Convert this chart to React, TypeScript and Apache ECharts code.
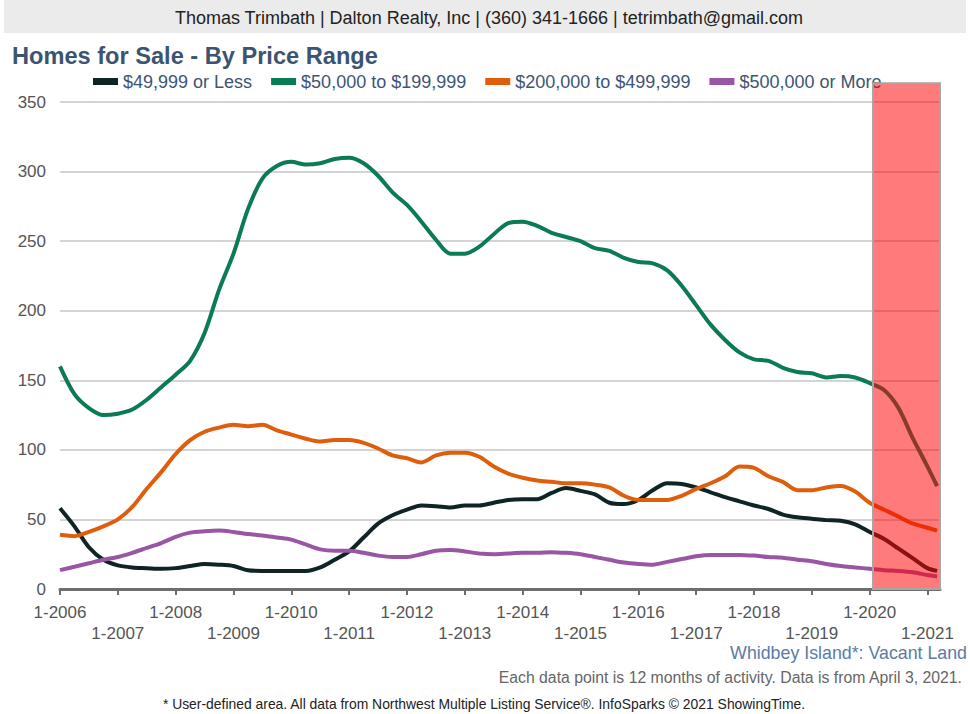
import React, { useEffect, useRef } from "react";
import * as echarts from "echarts";

// Months since January 2006 (sampled quarterly, last point = latest month)
const months = [
  0, 3, 6, 9, 12, 15, 18, 21, 24, 27, 30, 33, 36, 39, 42, 45, 48, 51, 54, 57,
  60, 63, 66, 69, 72, 75, 78, 81, 84, 87, 90, 93, 96, 99, 102, 105, 108, 111,
  114, 117, 120, 123, 126, 129, 132, 135, 138, 141, 144, 147, 150, 153, 156,
  159, 162, 165, 168, 171, 174, 177, 180, 182,
];

const under50k = [
  58, 45, 30, 21, 17, 15.5, 15, 14.5, 15, 16.5, 18, 17.5, 16.5, 13.5, 13, 13,
  13, 13, 15.5, 21, 27, 37, 47, 53, 57, 60, 59.5, 58.5, 60, 60, 62, 64, 64.5,
  64.5, 69, 72.5, 70.5, 68, 62, 61, 64, 71, 76, 75.5, 73, 69.5, 66, 63, 60,
  57.5, 53.5, 51.5, 50.5, 49.5, 49, 46.5, 41, 36, 29, 22, 15, 13,
];

const from50kTo200k = [
  160, 140, 130, 125, 126, 129, 136, 145, 154, 164, 184, 215, 241, 273, 295,
  304, 307, 305, 306, 309, 310, 306, 297, 285, 276, 264, 251, 241, 241, 246,
  255, 263, 264, 261, 256, 253, 250, 245, 243, 238, 235, 234, 229, 218, 204,
  190, 179, 170, 165, 164, 159, 156, 155, 152, 153, 152, 148, 143, 130, 108,
  88, 74,
];

const from200kTo500k = [
  39, 38, 41, 45, 50, 59, 72, 84, 97, 107, 113, 116, 118, 117, 118, 114, 111,
  108, 106, 107, 107, 105, 101, 96, 94, 91, 96, 98, 98, 95, 88, 83, 80, 78, 77,
  76, 76, 75, 73, 67, 64, 64, 64, 67, 72, 76, 81, 88, 87, 81, 77, 71, 71, 73,
  74, 70, 62, 57, 52, 47, 44, 42,
];

const over500k = [
  13.6, 16, 18.5, 21, 23, 26, 29.5, 33, 37.5, 40.5, 41.5, 42, 41, 39.5, 38.5,
  37, 35.5, 32, 28.5, 27.5, 27.5, 26, 24, 23, 23, 25, 27.5, 28, 27, 25.5, 25,
  25.5, 26, 26, 26.5, 26, 25, 23, 21, 19, 18, 17.5, 19.5, 21.5, 23.5, 24.5,
  24.5, 24.5, 24, 23, 22.5, 21, 20, 18, 16.5, 15.5, 14.5, 13.5, 13, 12, 10, 9,
];

const seriesNames = [
  "$49,999 or Less",
  "$50,000 to $199,999",
  "$200,000 to $499,999",
  "$500,000 or More",
];
const seriesColors = ["#0f2424", "#0b7a56", "#de5e0c", "#9856a4"];
const seriesValues = [under50k, from50kTo200k, from200kTo500k, over500k];

// Year tick positions (months) for 1-2006 ... 1-2021
const yearTicks = [0, 12, 24, 36, 48, 60, 72, 84, 96, 108, 120, 132, 144, 156, 168, 180];
const startYear = 2006;

// Highlighted period (data space: months / homes)
const highlightFrom = 168.7;
const highlightTo = 182.6;
const highlightTop = 363.5;

const FONT = "'Liberation Sans', Arial, Helvetica, sans-serif";

export default function App() {
  const ref = useRef<HTMLDivElement>(null);

  useEffect(() => {
    if (!ref.current) return;
    const chart = echarts.init(ref.current, undefined, { renderer: "svg" });

    const series = seriesValues.map((vals, i) => ({
      name: seriesNames[i],
      type: "line",
      data: months.map((m, j) => [m, vals[j]]),
      smooth: 0.3,
      symbol: "none",
      lineStyle: { width: 4, color: seriesColors[i] },
      itemStyle: { color: seriesColors[i] },
      clip: false,
    }));

    chart.setOption({
      animation: false,
      backgroundColor: "#ffffff",
      textStyle: { fontFamily: FONT },
      title: {
        text: "Homes for Sale - By Price Range",
        left: 7,
        top: 39,
        textStyle: {
          fontFamily: FONT,
          fontSize: 23.6,
          fontWeight: "bold",
          color: "#3b5470",
        },
      },
      legend: {
        left: 88,
        top: 67,
        icon: "rect",
        itemWidth: 25,
        itemHeight: 7,
        itemGap: 19,
        textStyle: {
          fontFamily: FONT,
          fontSize: 18,
          color: "#3d5573",
          lineHeight: 19,
        },
        data: seriesNames,
      },
      grid: { left: 60, right: 30, top: 102, bottom: 125 },
      xAxis: {
        type: "value",
        min: 0,
        max: 182.6,
        interval: 12,
        splitLine: { show: false },
        axisLine: { show: true, lineStyle: { color: "#6e6e6e", width: 3 } },
        axisTick: {
          show: true,
          length: 6,
          customValues: yearTicks,
          lineStyle: { color: "#6e6e6e", width: 2 },
        },
        axisLabel: {
          customValues: yearTicks,
          margin: 13,
          fontFamily: FONT,
          fontSize: 17,
          lineHeight: 21,
          color: "#555555",
          formatter: (v: number) => {
            const y = startYear + Math.round(v / 12);
            return y % 2 === 1 ? "\n1-" + y : "1-" + y;
          },
        },
      },
      yAxis: {
        type: "value",
        min: 0,
        max: 350,
        interval: 50,
        axisLine: { show: false },
        axisTick: { show: false },
        splitLine: { show: true, lineStyle: { color: "#c6c6c6", width: 1.5 } },
        axisLabel: {
          margin: 14,
          fontFamily: FONT,
          fontSize: 17,
          color: "#555555",
        },
      },
      series,
    });

    const p1 = chart.convertToPixel({ gridIndex: 0 }, [highlightFrom, highlightTop]) as number[];
    const p2 = chart.convertToPixel({ gridIndex: 0 }, [highlightTo, 0]) as number[];

    chart.setOption({
      graphic: [
        {
          type: "rect",
          z: 1,
          shape: { x: 4, y: 0, width: 962, height: 33 },
          style: { fill: "#ebebeb" },
        },
        {
          type: "text",
          z: 2,
          x: 489,
          y: 18,
          style: {
            text: "Thomas Trimbath | Dalton Realty, Inc | (360) 341-1666 | tetrimbath@gmail.com",
            fontFamily: FONT,
            fontSize: 18,
            fill: "#222222",
            align: "center",
            verticalAlign: "middle",
          },
        },
        {
          type: "rect",
          z: 100,
          shape: { x: p1[0], y: p1[1], width: p2[0] - p1[0], height: p2[1] - p1[1] },
          style: { fill: "rgba(255,0,0,0.52)", stroke: "#a6a6a6", lineWidth: 2 },
        },
        {
          type: "text",
          z: 2,
          x: 967,
          y: 653,
          style: {
            text: "Whidbey Island*: Vacant Land",
            fontFamily: FONT,
            fontSize: 17.8,
            fill: "#5b7ba6",
            align: "right",
            verticalAlign: "middle",
          },
        },
        {
          type: "text",
          z: 2,
          x: 962,
          y: 677,
          style: {
            text: "Each data point is 12 months of activity. Data is from April 3, 2021.",
            fontFamily: FONT,
            fontSize: 15.8,
            fill: "#666666",
            align: "right",
            verticalAlign: "middle",
          },
        },
        {
          type: "text",
          z: 2,
          x: 484,
          y: 704,
          style: {
            text: "* User-defined area. All data from Northwest Multiple Listing Service®. InfoSparks © 2021 ShowingTime.",
            fontFamily: FONT,
            fontSize: 13.9,
            fill: "#222222",
            align: "center",
            verticalAlign: "middle",
          },
        },
      ],
    });

    return () => chart.dispose();
  }, []);

  return (
    <div
      ref={ref}
      style={{ position: "fixed", left: 0, top: 0, width: 970, height: 714, background: "#ffffff" }}
    />
  );
}
